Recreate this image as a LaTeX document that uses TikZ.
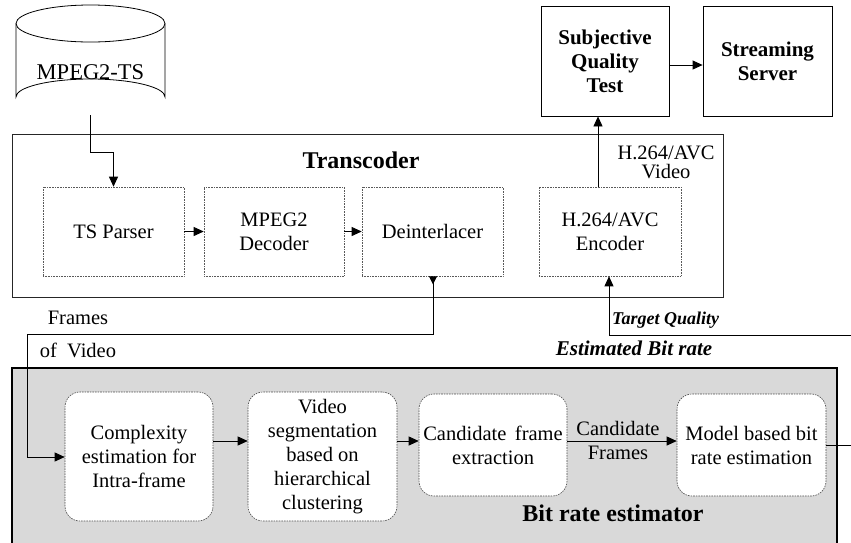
\documentclass[tikz,border=0pt]{standalone}
\usepackage{fontspec}
\setmainfont{Liberation Serif}
\usetikzlibrary{arrows.meta}
\begin{document}
\begin{tikzpicture}[x=1pt,y=-1pt,
  txt/.style={font=\fontsize{20.5}{24}\selectfont, align=center, inner sep=0pt},
  bold/.style={font=\fontsize{21}{24}\selectfont\bfseries, align=center, inner sep=0pt},
  tbox/.style={txt, draw=gray!70!black, densely dotted, line width=0.6pt},
  rbox/.style={txt, draw=gray!60!black, dash pattern=on 1.6pt off 1pt, line width=0.6pt, fill=white, rounded corners=15pt},
  sbox/.style={bold, draw=black, line width=0.8pt},
  conn/.style={draw=black, line width=0.8pt},
  arr/.style={conn, -{Triangle[length=10pt,width=9pt]}}
]
\useasboundingbox (0,0) rectangle (851,542);
% cylinder
\draw[line width=0.8pt, fill=white] (16,23.5) -- (16,97) arc[start angle=180,end angle=360,x radius=74.5,y radius=18] -- (165,23.5);
\draw[line width=0.8pt] (90.5,23.5) ellipse[x radius=74.5,y radius=18.5];
\node[txt, font=\fontsize{22.5}{24}\selectfont] (ts) at (90.5,72) {MPEG2-TS};
\coordinate (tsb) at (90,115);
% transcoder
\node[draw=gray!30!black, line width=1pt, minimum width=711pt, minimum height=163pt, inner sep=0pt] (trans) at (367.5,215.5) {};
\node[font=\fontsize{24}{26}\selectfont\bfseries, inner sep=0pt] (transt) at (361,160) {Transcoder};
\node[txt, font=\fontsize{20.5}{19}\selectfont] (h264v) at (666,162) {H.264/AVC\\Video};
\node[tbox, minimum width=141pt, minimum height=89pt] (tsp) at (113.5,231.5) {TS\ Parser};
\node[tbox, minimum width=140pt, minimum height=89pt] (dec) at (274,231.5) {MPEG2\\Decoder};
\node[tbox, minimum width=141pt, minimum height=89pt] (dei) at (432.5,231.5) {Deinterlacer};
\node[tbox, minimum width=142pt, minimum height=89pt] (enc) at (610,231.5) {H.264/AVC\\Encoder};
% top boxes
\node[sbox, minimum width=128pt, minimum height=110pt] (sqt) at (605,61) {Subjective\\Quality\\Test};
\node[sbox, minimum width=129pt, minimum height=110pt] (ss) at (767.5,61) {Streaming\\Server};
% bit rate estimator
\node[draw=black, line width=2pt, fill=gray!30, minimum width=825pt, minimum height=182pt, inner sep=0pt] (bre) at (424.5,459) {};
\node[font=\fontsize{24}{26}\selectfont\bfseries, inner sep=0pt] (bret) at (613,513) {Bit rate estimator};
\node[rbox, minimum width=148pt, minimum height=129pt] (cx) at (139,456.5) {Complexity\\estimation for\\Intra-frame};
\node[rbox, minimum width=149pt, minimum height=129pt] (vs) at (322.5,456.5) {Video\\segmentation\\based on\\hierarchical\\clustering};
\node[rbox, minimum width=148pt, minimum height=102pt] (cf) at (493,445) {Candidate\ \,frame\\extraction};
\node[rbox, minimum width=149pt, minimum height=102pt] (mb) at (751.5,445) {Model based bit\\rate estimation};
% labels
\node[txt] (fr) at (78,318) {Frames};
\node[txt] (ofv) at (78,350) {of\ \ Video};
\node[txt] (cand) at (618,428) {Candidate};
\node[txt] (candf) at (618,453) {Frames};
\node[font=\fontsize{18}{20}\selectfont\bfseries\itshape, inner sep=0pt, anchor=west] (tq) at (612,320) {Target Quality};
\node[font=\fontsize{21}{24}\selectfont\bfseries\itshape, inner sep=0pt] (ebr) at (634,348) {Estimated Bit rate};
% coordinates
\coordinate (c1) at (90,152);
\coordinate (c2) at (113.5,152);
\coordinate (d1) at (433,334);
\coordinate (d2) at (27,334);
\coordinate (d3) at (27,457);
\coordinate (t1) at (853,335);
\coordinate (t2) at (609,335);
\coordinate (m1) at (853,445);
% connectors
\draw[arr] (tsb) -- (c1) -- (c2) -- (tsp.north);
\draw[arr] (tsp.east) -- (dec.west);
\draw[arr] (dec.east) -- (dei.west);
\draw[arr] (enc.north -| 598,0) -- (sqt.south -| 598,0);
\draw[arr] (sqt.east |- 0,65) -- (ss.west |- 0,65);
\draw[conn, {Triangle[length=8pt,width=8pt,reversed]}-{Triangle[length=10pt,width=9pt]}] (dei.south -| 433,0) -- (d1) -- (d2) -- (d3) -- (cx.west |- d3);
\draw[arr] (cx.east |- 0,441) -- (vs.west |- 0,441);
\draw[arr] (vs.east |- 0,441) -- (cf.west |- 0,441);
\draw[arr] (cf.east |- 0,441) -- (mb.west |- 0,441);
\draw[arr] (t1) -- (t2) -- (enc.south -| t2);
\draw[conn] (mb.east) -- (m1);
\end{tikzpicture}
\end{document}
